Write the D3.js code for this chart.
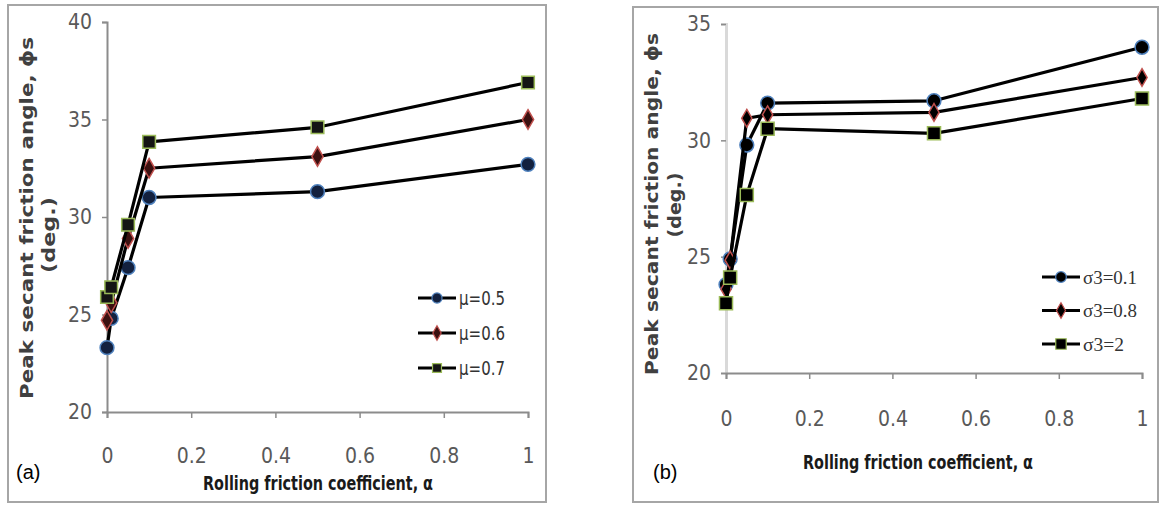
<!DOCTYPE html>
<html lang="en">
<head>
<meta charset="utf-8">
<script src="https://d3js.org/d3.v7.min.js"></script>
<style>
  body { margin: 0; background: #fff; }
  svg { display: block; }
</style>
</head>
<body>
<script>
// data
var alpha = [0, 0.01, 0.05, 0.1, 0.5, 1];
var xTicks = [0, 0.2, 0.4, 0.6, 0.8, 1];

var muLabels = ["μ=0.5", "μ=0.6", "μ=0.7"];
var mu05 = [23.3, 24.8, 27.4, 31.0, 31.3, 32.7];
var mu06 = [24.7, 25.6, 28.9, 32.5, 33.1, 35.0];
var mu07 = [25.9, 26.4, 29.6, 33.85, 34.6, 36.9];
var yTicksA = [20, 25, 30, 35, 40];

var sigLabels = ["σ3=0.1", "σ3=0.8", "σ3=2"];
var sig01 = [23.8, 24.9, 29.8, 31.6, 31.7, 34.0];
var sig08 = [23.6, 24.85, 30.95, 31.1, 31.2, 32.7];
var sig2 = [23.0, 24.1, 27.65, 30.5, 30.3, 31.8];
var yTicksB = [20, 25, 30, 35];

var yTitle = "Peak secant friction angle, ϕs";
var xTitle = "Rolling friction coefficient, α";

var width = 1160, height = 507;
var svg = d3.select("body").append("svg")
  .attr("width", width).attr("height", height);

var narrow = "'Liberation Sans Narrow', 'DejaVu Sans Condensed', 'Liberation Sans', sans-serif";

var markerShapes = [d3.symbolCircle, d3.symbolDiamond, d3.symbolSquare];
var markerStroke = ["#4f81bd", "#c0504d", "#9bbb59"];

function panel(p) {
  var g = svg.append("g");

  // frame
  g.append("rect")
    .attr("x", p.box[0]).attr("y", p.box[1])
    .attr("width", p.box[2] - p.box[0]).attr("height", p.box[3] - p.box[1])
    .attr("fill", "#fff").attr("stroke", "#a6a6a6").attr("stroke-width", 2);

  var x = d3.scaleLinear().domain([0, 1]).range(p.xr);
  var y = d3.scaleLinear().domain(p.yd).range(p.yr);

  // y axis
  var ya = g.append("g").attr("transform", "translate(" + p.xr[0] + ",0)")
    .call(d3.axisLeft(y).tickValues(p.yTicks).tickSize(5).tickPadding(10));
  ya.select(".domain").attr("stroke", p.yAxisColor).attr("stroke-width", p.yAxisWidth);
  ya.selectAll(".tick line").attr("stroke", "#8c8c8c").attr("stroke-width", 1.5);
  ya.selectAll("text").attr("font-family", narrow).attr("font-size", 21)
    .attr("fill", "#595959");

  // x axis
  var xa = g.append("g").attr("transform", "translate(0," + p.yr[0] + ")")
    .call(d3.axisBottom(x).tickValues(xTicks).tickSize(6).tickPadding(p.xPad)
      .tickFormat(function(d) { return d === 0 || d === 1 ? d3.format("d")(d) : d3.format(".1f")(d); }));
  xa.select(".domain").attr("stroke", "#8c8c8c").attr("stroke-width", 2);
  xa.selectAll(".tick line").attr("stroke", "#8c8c8c").attr("stroke-width", 1.5);
  xa.selectAll("text").attr("font-family", narrow).attr("font-size", 21)
    .attr("fill", "#595959");

  // titles
  g.append("text")
    .attr("transform", "translate(" + p.yt1[0] + "," + p.yt1[1] + ") rotate(-90)")
    .attr("text-anchor", "middle").attr("dominant-baseline", "central")
    .attr("font-family", "'DejaVu Sans', sans-serif").attr("font-weight", "bold")
    .attr("font-size", 17).attr("fill", "#404040")
    .attr("textLength", p.yt1[2]).attr("lengthAdjust", "spacingAndGlyphs")
    .text(yTitle);
  g.append("text")
    .attr("transform", "translate(" + p.yt2[0] + "," + p.yt2[1] + ") rotate(-90)")
    .attr("text-anchor", "middle").attr("dominant-baseline", "central")
    .attr("font-family", "'DejaVu Sans', sans-serif").attr("font-weight", "bold")
    .attr("font-size", 17).attr("fill", "#404040")
    .attr("textLength", p.yt2[2]).attr("lengthAdjust", "spacingAndGlyphs")
    .text("(deg.)");
  g.append("text")
    .attr("x", p.xt[0]).attr("y", p.xt[1])
    .attr("text-anchor", "middle").attr("dominant-baseline", "central")
    .attr("font-family", narrow).attr("font-weight", "bold")
    .attr("font-size", 19).attr("fill", "#1a1a1a")
    .attr("textLength", 230).attr("lengthAdjust", "spacingAndGlyphs")
    .text(xTitle);
  g.append("text")
    .attr("x", p.tag[0]).attr("y", p.tag[1])
    .attr("dominant-baseline", "central")
    .attr("font-family", "'Liberation Sans', Arial, sans-serif")
    .attr("font-size", 20).attr("fill", "#000")
    .text(p.tagText);

  // series
  var line = d3.line().x(function(d, i) { return x(alpha[i]); }).y(function(d) { return y(d); });
  p.series.forEach(function(s, k) {
    g.append("path").datum(s).attr("d", line)
      .attr("fill", "none").attr("stroke", "#000").attr("stroke-width", 3.2)
      .attr("stroke-linejoin", "round");
    g.selectAll(".m" + k).data(s).join("path")
      .attr("class", "m" + k)
      .attr("transform", function(d, i) { return "translate(" + x(alpha[i]) + "," + y(d) + ")"; })
      .attr("d", d3.symbol().type(markerShapes[k]).size(p.msize[k]))
      .attr("fill", p.mfill[k]).attr("stroke", markerStroke[k]).attr("stroke-width", 1.5);
  });

  // legend
  p.labels.forEach(function(lab, k) {
    var ly = p.leg[1] + k * p.leg[2];
    g.append("line").attr("x1", p.leg[0]).attr("x2", p.leg[0] + 38)
      .attr("y1", ly).attr("y2", ly).attr("stroke", "#000").attr("stroke-width", 3.2);
    g.append("path")
      .attr("transform", "translate(" + (p.leg[0] + 19) + "," + ly + ")")
      .attr("d", d3.symbol().type(markerShapes[k]).size(p.lsize[k]))
      .attr("fill", p.mfill[k]).attr("stroke", markerStroke[k]).attr("stroke-width", 1.2);
    g.append("text").attr("x", p.leg[0] + 41).attr("y", ly)
      .attr("dominant-baseline", "central")
      .attr("font-family", p.legFont).attr("font-size", 19).attr("fill", "#333")
      .attr("textLength", p.legLen[k]).attr("lengthAdjust", "spacingAndGlyphs")
      .text(lab);
  });
}

panel({
  box: [8, 5, 546, 502],
  xr: [107, 528], yr: [412, 22], yd: [20, 40], yTicks: yTicksA,
  yAxisColor: "#8c8c8c", yAxisWidth: 2, xPad: 30,
  yt1: [27, 218, 362], yt2: [49, 235, 76],
  xt: [318, 483], tag: [16, 472], tagText: "(a)",
  series: [mu05, mu06, mu07], labels: muLabels,
  msize: [150, 110, 160], lsize: [80, 60, 80],
  mfill: ["#13213f", "#3b1010", "#141414"],
  leg: [418, 298, 35], legFont: narrow, legLen: [46, 46, 46]
});

panel({
  box: [633, 7, 1158, 502],
  xr: [726, 1142], yr: [373, 24], yd: [20, 35], yTicks: yTicksB,
  yAxisColor: "#d9d9d9", yAxisWidth: 3, xPad: 32,
  yt1: [652, 204, 342], yt2: [675, 205, 65],
  xt: [918, 462], tag: [653, 472], tagText: "(b)",
  series: [sig01, sig08, sig2], labels: sigLabels,
  msize: [150, 90, 170], lsize: [90, 70, 110],
  mfill: ["#000", "#000", "#000"],
  leg: [1042, 277, 33.5], legFont: "'Liberation Serif', 'Times New Roman', serif",
  legLen: [54, 54, 41]
});
</script>
</body>
</html>
